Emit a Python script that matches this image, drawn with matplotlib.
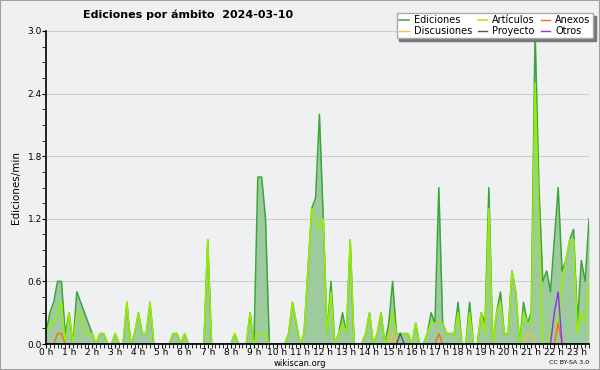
import numpy as np
import matplotlib
matplotlib.use("Agg")
import matplotlib.pyplot as plt
from matplotlib.patches import Rectangle
from matplotlib.ticker import MultipleLocator, FixedLocator

# 10-minute buckets, edits per minute
ediciones = [
    0.1, 0.3, 0.4, 0.6, 0.6, 0.1, 0.3, 0, 0.5, 0.4,
    0.3, 0.2, 0.1, 0, 0.1, 0.1, 0, 0, 0.1, 0,
    0, 0.4, 0, 0.1, 0.3, 0.1, 0.1, 0.4, 0, 0,
    0, 0, 0, 0.1, 0.1, 0, 0.1, 0, 0, 0,
    0, 0, 1.0, 0, 0, 0, 0, 0, 0, 0.1,
    0, 0, 0, 0.3, 0, 1.6, 1.6, 1.2, 0, 0,
    0, 0, 0, 0.1, 0.4, 0.2, 0, 0.1, 0.7, 1.3,
    1.4, 2.2, 1.2, 0.1, 0.6, 0, 0.1, 0.3, 0.1, 1.0,
    0, 0, 0, 0.1, 0.3, 0, 0.1, 0.3, 0, 0.2,
    0.6, 0.1, 0.1, 0.1, 0.1, 0, 0.2, 0, 0, 0.1,
    0.3, 0.2, 1.5, 0.2, 0.1, 0.1, 0.1, 0.4, 0, 0,
    0.4, 0, 0, 0.3, 0.2, 1.5, 0, 0.3, 0.5, 0.1,
    0.1, 0.7, 0.5, 0, 0.4, 0.2, 0.3, 3.0, 1.5, 0.6,
    0.7, 0.5, 1.0, 1.5, 0.7, 0.8, 1.0, 1.1, 0.2, 0.8,
    0.6, 1.2,
]
articulos = [
    0.1, 0.2, 0.2, 0.3, 0.4, 0, 0.3, 0, 0.3, 0.3,
    0.1, 0.1, 0.1, 0, 0.1, 0.1, 0, 0, 0.1, 0,
    0, 0.4, 0, 0.1, 0.3, 0.1, 0.1, 0.4, 0, 0,
    0, 0, 0, 0.1, 0.1, 0, 0.1, 0, 0, 0,
    0, 0, 1.0, 0, 0, 0, 0, 0, 0, 0.1,
    0, 0, 0, 0.3, 0, 0.1, 0.1, 0.1, 0, 0,
    0, 0, 0, 0.1, 0.4, 0.2, 0, 0.1, 0.7, 1.3,
    1.2, 1.1, 1.2, 0.1, 0.5, 0, 0.1, 0.2, 0.1, 1.0,
    0, 0, 0, 0.1, 0.3, 0, 0.1, 0.3, 0, 0.1,
    0.3, 0.1, 0.1, 0.1, 0.1, 0, 0.2, 0, 0, 0.1,
    0.2, 0.2, 0.2, 0.2, 0.1, 0.1, 0.1, 0.3, 0, 0,
    0.3, 0, 0, 0.3, 0.1, 1.3, 0, 0.3, 0.4, 0.1,
    0.1, 0.7, 0.5, 0, 0.3, 0.2, 0.2, 2.5, 1.2, 0,
    0, 0.1, 0.2, 0.2, 0.6, 0.8, 1.0, 1.0, 0.1, 0.3,
    0.2, 0.6,
]
n = len(ediciones)
anexos = [0.0] * n
anexos[3] = anexos[4] = 0.1
anexos[102] = 0.1
anexos[133] = 0.2
discusiones = [0.0] * n
discusiones[90] = 0.1
discusiones[125] = discusiones[126] = 0.1
proyecto = [0.0] * n
proyecto[92] = 0.1
otros = [0.0] * n
otros[132] = 0.3
otros[133] = 0.5

hours = np.arange(n) / 6.0
hour_labels = ["%d h" % h for h in range(24)]

BG = "#f0f0f0"
PLOT_BG = "#eef0f2"

fig = plt.figure(figsize=(6, 3.7), dpi=100, facecolor=BG)
fig.patches.append(Rectangle((0, 0), 1, 1, transform=fig.transFigure,
                             fill=False, edgecolor="#a0a0a0", lw=1.5))
ax = fig.add_axes([46 / 600, 26 / 370, 543 / 600, 313 / 370], facecolor=PLOT_BG)

ax.fill_between(hours, ediciones, color="#9ecb9e", lw=0)
l_ed, = ax.plot(hours, ediciones, color="#3aa63a", lw=1.1)
l_ar, = ax.plot(hours, articulos, color="#99ee00", lw=1.1)
l_an, = ax.plot(hours, anexos, color="#ff6622", lw=1.0)
l_di, = ax.plot(hours, discusiones, color="#f5c030", lw=1.0)
l_pr, = ax.plot(hours, proyecto, color="#555555", lw=1.0)
l_ot, = ax.plot(hours, otros, color="#8833ee", lw=1.0)

ax.set_xlim(0, hours[-1])
ax.set_ylim(0, 3.0)
ax.yaxis.set_minor_locator(MultipleLocator(0.15))
ax.xaxis.set_major_locator(FixedLocator(range(24)))
ax.xaxis.set_minor_locator(MultipleLocator(1 / 6))
ax.set_xticklabels(hour_labels)
ax.set_yticks([0, 0.6, 1.2, 1.8, 2.4, 3.0])
ax.set_yticklabels(["0.0", "0.6", "1.2", "1.8", "2.4", "3.0"])
ax.tick_params(which="both", direction="out", colors="black", labelsize=6.5, pad=0)
ax.tick_params(which="major", length=3)
ax.tick_params(which="minor", length=3)
ax.grid(axis="y", color="#cccccc", lw=0.8)
ax.set_axisbelow(True)
for s in ("top", "right"):
    ax.spines[s].set_visible(False)
for s in ("left", "bottom"):
    ax.spines[s].set_linewidth(1.2)

ax.set_ylabel("Ediciones/min", fontsize=7.5, labelpad=5)

fig.text(188 / 600, 1 - 15 / 370, "Ediciones por ámbito  2024-03-10",
         ha="center", va="center", fontsize=8, fontweight="bold")
fig.text(300 / 600, 1 - 363 / 370, "wikiscan.org", ha="center", va="center", fontsize=6)
fig.text(589 / 600, 1 - 363 / 370, "CC BY-SA 3.0", ha="right", va="center", fontsize=4.5)

# column-major order so rows read Ediciones/Artículos/Anexos, Discusiones/Proyecto/Otros
handles = [l_ed, l_di, l_ar, l_pr, l_an, l_ot]
labels = ["Ediciones", "Discusiones", "Artículos", "Proyecto", "Anexos", "Otros"]
leg = fig.legend(handles, labels, loc="upper right", bbox_to_anchor=(593 / 600, 1 - 13 / 370),
                 borderaxespad=0, ncol=3, fontsize=7, frameon=True, fancybox=False,
                 shadow={"color": "#777777", "alpha": 1}, handlelength=1.0,
                 handletextpad=0.5, columnspacing=0.6, labelspacing=0.05, borderpad=0.25)
leg.get_frame().set_facecolor("white")
leg.get_frame().set_edgecolor("#aaaaaa")

fig.savefig("out.png", dpi=100, facecolor=BG)
